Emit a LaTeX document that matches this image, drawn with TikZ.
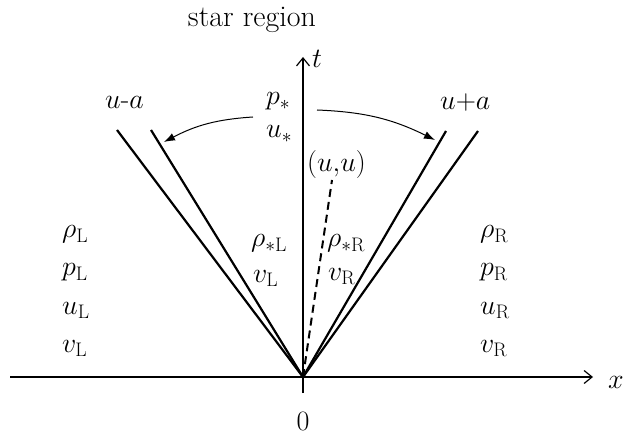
\RequirePackage{fix-cm}
\documentclass[tikz,border=0pt]{standalone}
\usepackage{tikz}
\usetikzlibrary{arrows.meta}
\tikzset{
  rp diagram/.style={x=1pt, y=-1pt, font=\fontsize{28}{32}\selectfont},
  rp axis/.style={-{Straight Barb[length=8pt,width=13pt]}, line width=1.2pt},
  rp wave/.style={line width=2.2pt},
  rp contact/.style={line width=2pt, dash pattern=on 8pt off 5pt},
  rp pointer/.style={-{Latex[length=11pt,width=8pt]}, line width=1pt},
  rp label/.style={anchor=base west, inner sep=0pt},
  rp title/.style={anchor=base, inner sep=0pt, font=\fontsize{30}{34}\selectfont}
}
\begin{document}
\begin{tikzpicture}[rp diagram]
\useasboundingbox (0,0) rectangle (626,438);
% axes
\coordinate (O) at (303,377);
\coordinate (xstart) at (10,377);
\coordinate (xend) at (593,377);
\coordinate (tstart) at (303,393);
\coordinate (tend) at (303,57);
\draw[rp axis] (xstart) -- (xend);
\draw[rp axis] (tstart) -- (tend);
\node[rp label] (xlab) at (608,388) {$x$};
\node[rp label] (tlab) at (312,68) {$t$};
\node[anchor=base, inner sep=0pt] (zero) at (303,430) {$0$};
% waves
\coordinate (LL) at (117,130);
\coordinate (LR) at (151,130);
\coordinate (RL) at (446,131);
\coordinate (RR) at (478,131);
\foreach \w in {LL,LR,RL,RR}
  \draw[rp wave] (O) -- (\w);
\coordinate (C) at (332,180);
\draw[rp contact] (O) -- (C);
% labels
\node[rp title] (star) at (252,27) {star region};
\node[rp label] (minus) at (105,109) {$u$-$a$};
\node[rp label] (plus) at (440,110) {$u{+}a$};
\node[rp label] (pstar) at (266,105) {$p_*$};
\node[rp label] (ustar) at (266,138) {$u_*$};
\node[rp label] (uu) at (307,172) {$(u{,}u)$};
\coordinate (ptrL) at (253,117);
\coordinate (ptrR) at (317,110);
\coordinate (hitL) at (164,142);
\coordinate (hitR) at (435,140);
\draw[rp pointer] (ptrL) to[bend right=12] (hitL);
\draw[rp pointer] (ptrR) to[bend left=12] (hitR);
\node[rp label] (rsL) at (251,247) {$\rho_{*\mathrm{L}}$};
\node[rp label] (vsL) at (253,282) {$v_{\mathrm{L}}$};
\node[rp label] (rsR) at (327,247) {$\rho_{*\mathrm{R}}$};
\node[rp label] (vsR) at (328,280) {$v_{\mathrm{R}}$};
\foreach \q [count=\i] in {\rho,p,u,v}{
  \node[rp label] (stateL\i) at (62,200+38*\i) {$\q_{\mathrm{L}}$};
  \node[rp label] (stateR\i) at (480,200+38*\i) {$\q_{\mathrm{R}}$};
}
\end{tikzpicture}
\end{document}
